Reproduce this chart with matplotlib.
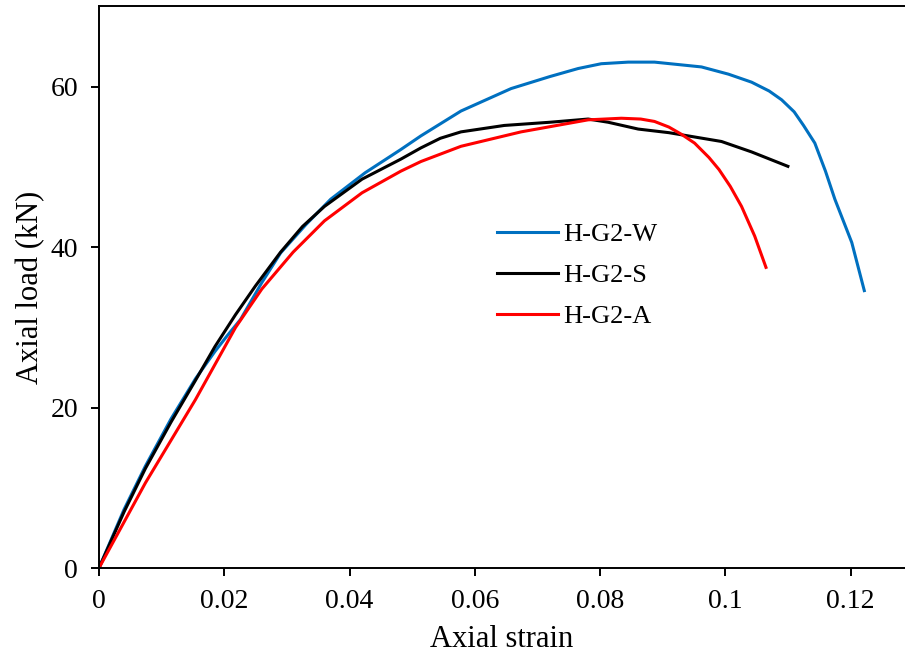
import numpy as np
import matplotlib
matplotlib.use('Agg')
import matplotlib.pyplot as plt

# data
w_strain = [0, 0.0040, 0.0074, 0.0115, 0.0154, 0.0185, 0.0205, 0.0226, 0.0260, 0.0290,
            0.0330, 0.0370, 0.0425, 0.0482, 0.0514, 0.0578, 0.0658, 0.0720, 0.0765,
            0.0802, 0.0845, 0.0887, 0.0962, 0.1005, 0.1042, 0.1070, 0.1090, 0.1110,
            0.1125, 0.1143, 0.1160, 0.1175, 0.1202, 0.1222]
w_load = [0, 7.3, 12.7, 18.6, 23.6, 27.0, 29.0, 31.0, 35.6, 39.3,
          42.8, 46.0, 49.3, 52.2, 53.9, 57.0, 59.8, 61.3, 62.3,
          62.9, 63.1, 63.1, 62.5, 61.6, 60.6, 59.5, 58.4, 56.9,
          55.2, 53.0, 49.5, 46.0, 40.6, 34.6]

s_strain = [0, 0.0040, 0.0074, 0.0115, 0.0154, 0.0185, 0.0218, 0.0250, 0.0290, 0.0325,
            0.0360, 0.0420, 0.0482, 0.0514, 0.0545, 0.0578, 0.0647, 0.0720, 0.0781,
            0.0813, 0.0861, 0.0910, 0.0994, 0.1042, 0.1100]
s_load = [0, 7.0, 12.4, 18.2, 23.4, 27.6, 31.6, 35.2, 39.4, 42.6,
          45.1, 48.5, 51.0, 52.4, 53.6, 54.4, 55.2, 55.6, 56.0,
          55.6, 54.75, 54.3, 53.2, 51.9, 50.1]

a_strain = [0, 0.0074, 0.0154, 0.0218, 0.0260, 0.0310, 0.0360, 0.0420, 0.0482, 0.0514,
            0.0578, 0.0674, 0.0781, 0.0834, 0.0865, 0.0887, 0.0910, 0.0930, 0.0951,
            0.0974, 0.0990, 0.1008, 0.1026, 0.1047, 0.1065]
a_load = [0, 10.6, 21.0, 30.0, 34.8, 39.4, 43.3, 46.8, 49.5, 50.7,
          52.6, 54.4, 55.9, 56.1, 56.0, 55.7, 55.0, 54.1, 53.0,
          51.2, 49.7, 47.6, 45.1, 41.4, 37.5]

labels = ['H-G2-W', 'H-G2-S', 'H-G2-A']
colors = ['#0070C0', 'black', '#FF0000']

plt.rcParams['font.family'] = ['Liberation Serif', 'DejaVu Serif']

fig = plt.figure(figsize=(9.05, 6.53), dpi=100)
ax = fig.add_axes([99/905, 85/653, 1 - 99/905, (568 - 6)/653])

for x, y, lab, c in zip([w_strain, s_strain, a_strain], [w_load, s_load, a_load], labels, colors):
    ax.plot(x, y, color=c, lw=2.2, label=lab, solid_joinstyle='round')

ax.set_xlim(0, 0.1287)
ax.set_ylim(0, 70.1)
ax.set_xticks([0, 0.02, 0.04, 0.06, 0.08, 0.1, 0.12])
ax.set_xticklabels(['0', '0.02', '0.04', '0.06', '0.08', '0.1', '0.12'])
ax.set_yticks([0, 20, 40, 60])

ax.spines['right'].set_visible(False)
for sp in ['left', 'top', 'bottom']:
    ax.spines[sp].set_linewidth(1.4)

ax.tick_params(axis='both', direction='out', length=6, width=1.4, labelsize=20, pad=9)
ax.set_xlabel('Axial strain', fontsize=22, labelpad=8)
ax.set_ylabel('Axial load (kN)', fontsize=22, labelpad=4)

fig.legend(loc='upper left', bbox_to_anchor=(497/905, 1 - 223/653), frameon=False,
           fontsize=19, handlelength=2.3, handletextpad=0.2, labelspacing=0.66,
           borderpad=0, borderaxespad=0)

fig.savefig('out.png', dpi=100)
